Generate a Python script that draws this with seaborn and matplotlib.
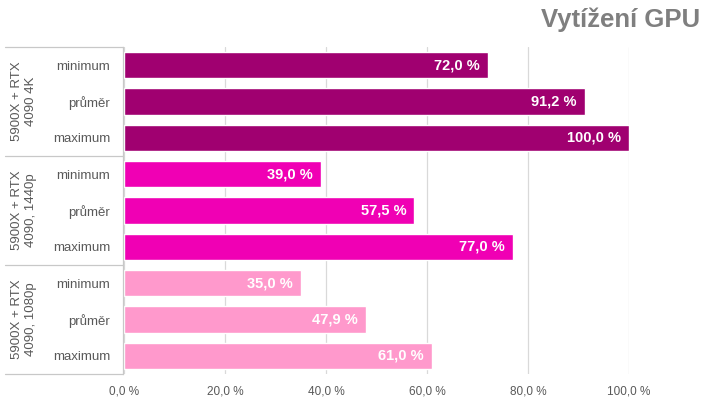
import matplotlib
matplotlib.use("Agg")
import matplotlib.pyplot as plt
import matplotlib.transforms as mtransforms
import seaborn as sns
import pandas as pd

groups = ["5900X + RTX\n4090 4K", "5900X + RTX\n4090, 1440p", "5900X + RTX\n4090, 1080p"]
metrics = ["minimum", "průměr", "maximum"]
values_4k = [72.0, 91.2, 100.0]
values_1440 = [39.0, 57.5, 77.0]
values_1080 = [35.0, 47.9, 61.0]
group_colors = ["#A00070", "#F000B4", "#FF99CC"]
x_ticks = [0, 20, 40, 60, 80, 100]
title = "Vytížení GPU"

all_values = [values_4k, values_1440, values_1080]
rows = []
for gi, (g, vals) in enumerate(zip(groups, all_values)):
    for m, v in zip(metrics, vals):
        rows.append({"id": f"{gi}-{m}", "metric": m, "group": g, "value": v, "color": group_colors[gi]})
df = pd.DataFrame(rows)

sns.set_theme(style="white")
plt.rcParams['font.family'] = ['Liberation Sans', 'DejaVu Sans']

fig = plt.figure(figsize=(7.2, 4.05), dpi=100)
ax = fig.add_axes([124/720, 1-374/405, (629-124)/720, (374-47)/405])

sns.barplot(data=df, x="value", y="id", hue="id", palette=list(df["color"]),
            orient="h", width=0.72, legend=False, ax=ax, saturation=1)

ax.set_xlim(0, 100)
ax.set_ylim(8.5, -0.5)
ax.set_xticks(x_ticks)
ax.set_xticklabels([f"{t:.1f}".replace(".", ",") + " %" for t in x_ticks])
ax.set_yticks(range(len(df)))
ax.set_yticklabels(list(df["metric"]))
ax.tick_params(axis="y", length=0, pad=9, labelsize=9.5, labelcolor="#595959")
ax.tick_params(axis="x", length=0, pad=8, labelsize=8.5, labelcolor="#595959")
ax.set_xlabel("")
ax.set_ylabel("")
ax.grid(axis="x", color="#D9D9D9", linewidth=0.9)
ax.set_axisbelow(True)
for s in ["top", "right", "bottom"]:
    ax.spines[s].set_visible(False)
ax.spines["left"].set_color("#C8C8C8")
ax.spines["left"].set_linewidth(0.9)
ax.spines["left"].set_position(("outward", 1))

for patch, v in zip(ax.patches, df["value"]):
    y = patch.get_y() + patch.get_height() / 2
    ax.text(v - 1.6, y, f"{v:.1f}".replace(".", ",") + " %", ha="right", va="center",
            color="white", fontsize=10.5, fontweight="bold")

trans = mtransforms.blended_transform_factory(fig.transFigure, ax.transData)
for yb in [-0.5, 2.5, 5.5, 8.5]:
    ax.plot([5/720, 123/720], [yb, yb], transform=trans, color="#C8C8C8", linewidth=0.9, clip_on=False)
for gi, g in enumerate(groups):
    ax.text(24/720, gi*3 + 1, g, transform=trans, rotation=90, ha="center", va="center",
            color="#595959", fontsize=9.5, multialignment="center", linespacing=1.15)

fig.text(700/720, 1-20/405, title, ha="right", va="center", fontsize=18.5, fontweight="bold", color="#7F7F7F")

fig.savefig("out.png", dpi=100)
